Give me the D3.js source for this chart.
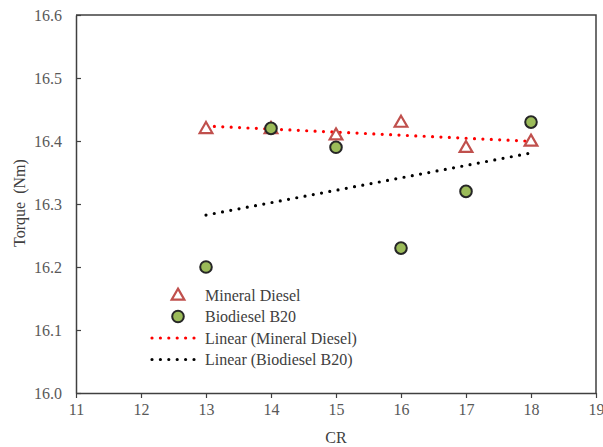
<!DOCTYPE html>
<html>
<head>
<meta charset="utf-8">
<script src="https://cdn.jsdelivr.net/npm/d3@7"></script>
<style>
  body { margin: 0; background: #fff; }
  svg text { font-family: "Liberation Serif", "Times New Roman", serif; }
</style>
</head>
<body>
<div class="chart-container"></div>
<script>
// CR values and torque readings per fuel
const crValues = [13, 14, 15, 16, 17, 18];
const mineralDiesel = [16.42, 16.42, 16.41, 16.43, 16.39, 16.40];
const biodieselB20 = [16.20, 16.42, 16.39, 16.23, 16.32, 16.43];
const xTicks = [11, 12, 13, 14, 15, 16, 17, 18, 19];
const yTicks = [16.0, 16.1, 16.2, 16.3, 16.4, 16.5, 16.6];

// Dimensions
const W = 603, H = 447;
const margin = { top: 15, right: 7, bottom: 54, left: 76 };
const width = W - margin.left - margin.right;
const height = H - margin.top - margin.bottom;

const svg = d3.select(".chart-container")
    .append("svg")
        .attr("width", W)
        .attr("height", H)
    .append("g")
        .attr("transform", `translate(${margin.left}, ${margin.top})`);

const x = d3.scaleLinear().domain([11, 19]).range([0, width]);
const y = d3.scaleLinear().domain([16.0, 16.6]).range([height, 0]);

// least squares fit, like excel's linear trendline
function linFit(xs, ys) {
    const mx = d3.mean(xs), my = d3.mean(ys);
    const num = d3.sum(xs, (v, i) => (v - mx) * (ys[i] - my));
    const den = d3.sum(xs, v => (v - mx) * (v - mx));
    const slope = num / den;
    return v => my + slope * (v - mx);
}

// axes
const gx = svg.append("g")
    .attr("transform", `translate(0, ${height})`)
    .call(d3.axisBottom(x).tickValues(xTicks).tickFormat(d3.format("d")).tickSizeInner(5).tickSizeOuter(0).tickPadding(6));
const gy = svg.append("g")
    .call(d3.axisLeft(y).tickValues(yTicks).tickFormat(d3.format(".1f")).tickSizeInner(-5).tickSizeOuter(0).tickPadding(14));

[gx, gy].forEach(g => {
    g.select(".domain").attr("stroke", "#404040").attr("stroke-width", 1.5);
    g.selectAll(".tick line").attr("stroke", "#404040").attr("stroke-width", 1.2);
    g.selectAll(".tick text")
        .attr("fill", "#595959")
        .style("font-size", "16px")
        .style("font-family", "Liberation Serif, serif");
});

// frame (top and right)
svg.append("path")
    .attr("d", `M0,0H${width}V${height}`)
    .attr("fill", "none")
    .attr("stroke", "#404040")
    .attr("stroke-width", 1.5);

// axis titles
svg.append("text")
    .attr("x", width / 2)
    .attr("y", height + 50)
    .attr("text-anchor", "middle")
    .attr("fill", "#404040")
    .style("font-size", "16px")
    .text("CR");
svg.append("text")
    .attr("transform", `translate(${-51}, ${height / 2 - 1}) rotate(-90)`)
    .attr("text-anchor", "middle")
    .attr("fill", "#404040")
    .style("font-size", "16px")
    .style("white-space", "pre")
    .text("Torque  (Nm)");

// trend lines
const xFirst = crValues[0], xLast = crValues[crValues.length - 1];
const trends = [
    { ys: mineralDiesel, color: "#ff0000" },
    { ys: biodieselB20, color: "#000000" }
];
trends.forEach(t => {
    const f = linFit(crValues, t.ys);
    svg.append("line")
        .attr("x1", x(xFirst)).attr("y1", y(f(xFirst)))
        .attr("x2", x(xLast)).attr("y2", y(f(xLast)))
        .attr("stroke", t.color)
        .attr("stroke-width", 3.2)
        .attr("stroke-linecap", "round")
        .attr("stroke-dasharray", "0 8.4");
});

const tri = d3.symbol().type(d3.symbolTriangle).size(70);

// mineral diesel triangles
svg.selectAll(".md")
    .data(crValues.map((c, i) => ({ c, v: mineralDiesel[i] })))
    .join("path")
        .attr("class", "md")
        .attr("d", tri)
        .attr("transform", d => `translate(${x(d.c)}, ${y(d.v) + 1})`)
        .attr("fill", "#fff")
        .attr("stroke", "#c0504d")
        .attr("stroke-width", 2.2);

// biodiesel circles
svg.selectAll(".bd")
    .data(crValues.map((c, i) => ({ c, v: biodieselB20[i] })))
    .join("circle")
        .attr("class", "bd")
        .attr("cx", d => x(d.c))
        .attr("cy", d => y(d.v))
        .attr("r", 5.8)
        .attr("fill", "#9bbb59")
        .attr("stroke", "#262626")
        .attr("stroke-width", 2);

// legend
const leg = svg.append("g").attr("transform", `translate(${76}, ${280})`);
const rowH = 21.5;
const legItems = ["Mineral Diesel", "Biodiesel B20", "Linear (Mineral Diesel)", "Linear (Biodiesel B20)"];
legItems.forEach((label, i) => {
    leg.append("text")
        .attr("x", 53)
        .attr("y", i * rowH + 5.5)
        .attr("fill", "#404040")
        .style("font-size", "16px")
        .text(label);
});
leg.append("path")
    .attr("d", tri)
    .attr("transform", `translate(26, 1)`)
    .attr("fill", "#fff")
    .attr("stroke", "#c0504d")
    .attr("stroke-width", 2.2);
leg.append("circle")
    .attr("cx", 26).attr("cy", rowH)
    .attr("r", 5.8)
    .attr("fill", "#9bbb59")
    .attr("stroke", "#262626")
    .attr("stroke-width", 2);
trends.forEach((t, i) => {
    leg.append("line")
        .attr("x1", 0).attr("x2", 48)
        .attr("y1", (i + 2) * rowH).attr("y2", (i + 2) * rowH)
        .attr("stroke", t.color)
        .attr("stroke-width", 3.2)
        .attr("stroke-linecap", "round")
        .attr("stroke-dasharray", "0 8.4");
});
</script>
</body>
</html>
